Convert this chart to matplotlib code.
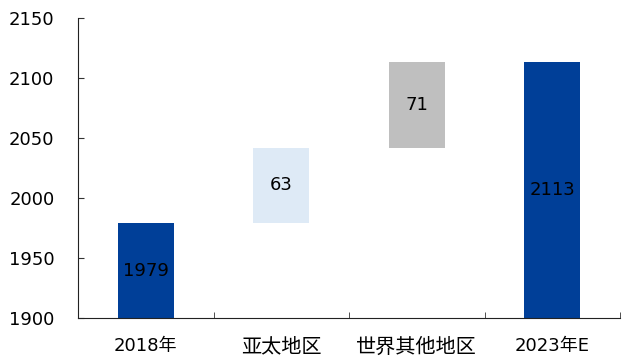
import matplotlib
matplotlib.use("Agg")
import matplotlib.pyplot as plt
import numpy as np

plt.rcParams['font.family'] = ['DejaVu Sans', 'Noto Sans CJK SC']

categories = ['2018年', '亚太地区', '世界其他地区', '2023年E']
values = [1979, 63, 71, 2113]
kinds = ['total', 'delta', 'delta', 'total']
colors = ['#003F98', '#DEEAF6', '#BFBFBF', '#003F98']

fig = plt.figure(figsize=(6.23, 3.58), dpi=100)
ax = fig.add_axes([78/623, 40/358, 542/623, 300/358])

ymin = 1900
bottoms, heights = [], []
running = 0
for v, k in zip(values, kinds):
    if k == 'total':
        bottoms.append(ymin)
        heights.append(v - ymin)
        running = v
    else:
        bottoms.append(running)
        heights.append(v)
        running += v

x = np.arange(len(categories))
ax.bar(x, heights, bottom=bottoms, width=0.41, color=colors)
for xi, b, h, v in zip(x, bottoms, heights, values):
    ax.text(xi, b + h / 2, str(v), ha='center', va='center', fontsize=13, color='black')

ax.set_xlim(-0.5, len(categories) - 0.5)
ax.set_ylim(1900, 2150)
ax.set_yticks(np.arange(1900, 2151, 50))
ax.set_xticks(x)
ax.set_xticklabels(categories, fontsize=13, family=['DejaVu Sans', 'Noto Sans CJK SC'])
for lab, cat in zip(ax.get_xticklabels(), categories):
    if not any(ch.isdigit() for ch in cat):
        lab.set_fontsize(14.5)
ax.set_xticks(np.arange(0.5, len(categories), 1), minor=True)
ax.tick_params(axis='x', which='major', length=0, pad=14)
ax.tick_params(axis='x', which='minor', direction='in', length=4, color='#333333')
ax.tick_params(axis='y', direction='in', length=4, labelsize=13, pad=17, color='#333333')
ax.spines['top'].set_visible(False)
ax.spines['right'].set_visible(False)
ax.spines['left'].set_color('#222222')
ax.spines['bottom'].set_color('#222222')

fig.savefig('out.png', dpi=100)
